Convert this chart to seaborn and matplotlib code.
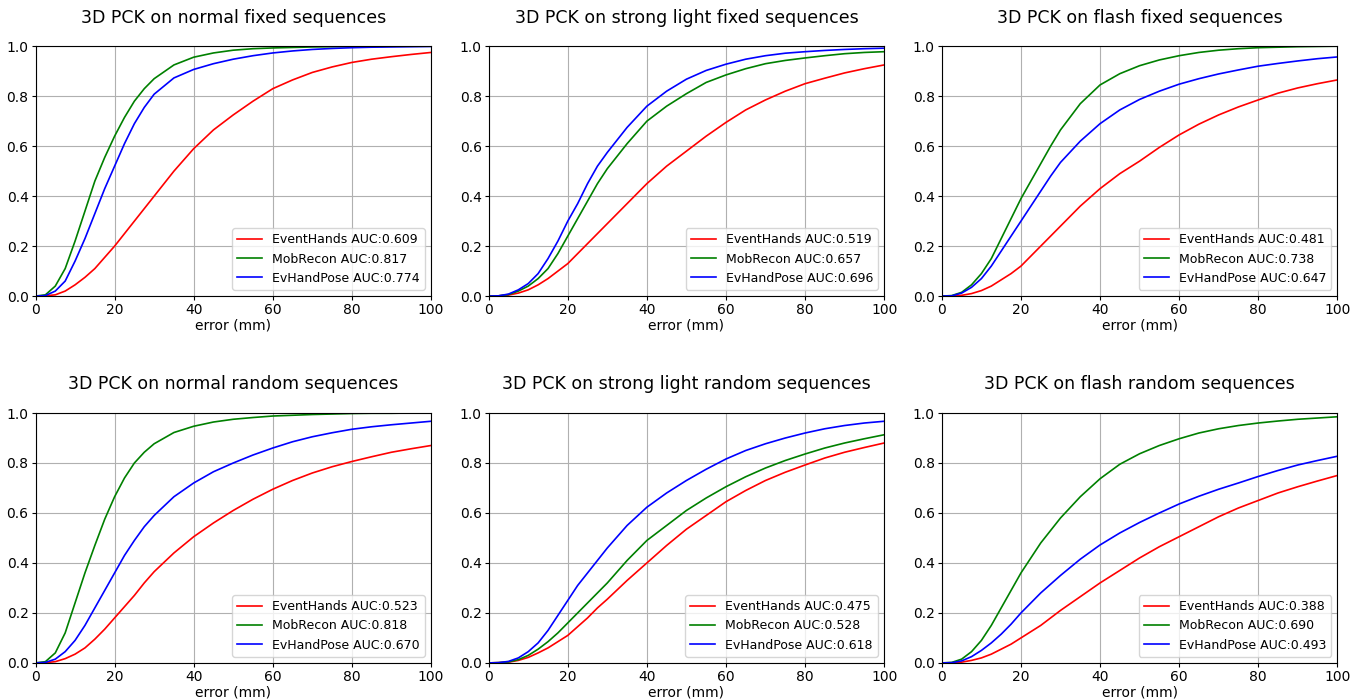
import numpy as np
import pandas as pd
import seaborn as sns
import matplotlib.pyplot as plt

# error thresholds (mm)
err = [0, 2.5, 5, 7.5, 10, 12.5, 15, 17.5, 20, 22.5, 25, 27.5, 30, 35, 40, 45,
       50, 55, 60, 65, 70, 75, 80, 85, 90, 95, 100]

methods = ['EventHands', 'MobRecon', 'EvHandPose']
colors = ['red', 'green', 'blue']

titles = ['3D PCK on normal fixed sequences',
          '3D PCK on strong light fixed sequences',
          '3D PCK on flash fixed sequences',
          '3D PCK on normal random sequences',
          '3D PCK on strong light random sequences',
          '3D PCK on flash random sequences']

auc = [[0.609, 0.817, 0.774],
       [0.519, 0.657, 0.696],
       [0.481, 0.738, 0.647],
       [0.523, 0.818, 0.670],
       [0.475, 0.528, 0.618],
       [0.388, 0.690, 0.493]]

# normal fixed
nf_event = [0, 0.001, 0.005, 0.02, 0.045, 0.075, 0.11, 0.155, 0.2, 0.25, 0.3, 0.35, 0.4, 0.5,
            0.59, 0.665, 0.725, 0.78, 0.83, 0.865, 0.895, 0.917, 0.935, 0.948, 0.958, 0.967, 0.975]
nf_mob = [0, 0.005, 0.04, 0.11, 0.22, 0.34, 0.46, 0.555, 0.64, 0.715, 0.78, 0.83, 0.87, 0.925,
          0.956, 0.973, 0.984, 0.99, 0.993, 0.995, 0.997, 0.998, 0.999, 0.999, 1.0, 1.0, 1.0]
nf_ev = [0, 0.002, 0.02, 0.06, 0.14, 0.23, 0.33, 0.43, 0.52, 0.61, 0.69, 0.755, 0.808, 0.873,
         0.907, 0.93, 0.948, 0.962, 0.973, 0.981, 0.987, 0.991, 0.994, 0.996, 0.997, 0.998, 0.999]

# strong light fixed
sf_event = [0, 0.001, 0.004, 0.012, 0.025, 0.045, 0.07, 0.1, 0.13, 0.17, 0.21, 0.25, 0.29, 0.37,
            0.45, 0.52, 0.58, 0.64, 0.695, 0.745, 0.785, 0.82, 0.85, 0.872, 0.893, 0.91, 0.925]
sf_mob = [0, 0.001, 0.006, 0.02, 0.04, 0.07, 0.11, 0.17, 0.24, 0.31, 0.38, 0.45, 0.51, 0.61,
          0.70, 0.76, 0.81, 0.855, 0.885, 0.91, 0.93, 0.943, 0.953, 0.962, 0.97, 0.975, 0.978]
sf_ev = [0, 0.001, 0.008, 0.025, 0.05, 0.09, 0.15, 0.22, 0.3, 0.37, 0.45, 0.52, 0.575, 0.675,
         0.76, 0.82, 0.868, 0.903, 0.928, 0.948, 0.962, 0.972, 0.978, 0.983, 0.987, 0.99, 0.992]

# flash fixed
ff_event = [0, 0.0, 0.003, 0.01, 0.022, 0.04, 0.065, 0.09, 0.12, 0.16, 0.2, 0.24, 0.28, 0.36,
            0.43, 0.49, 0.54, 0.595, 0.645, 0.688, 0.725, 0.757, 0.785, 0.812, 0.833, 0.85, 0.865]
ff_mob = [0, 0.002, 0.015, 0.045, 0.09, 0.15, 0.23, 0.31, 0.39, 0.46, 0.53, 0.6, 0.665, 0.77,
          0.845, 0.89, 0.922, 0.945, 0.962, 0.975, 0.984, 0.99, 0.994, 0.996, 0.998, 0.999, 1.0]
ff_ev = [0, 0.001, 0.012, 0.035, 0.07, 0.12, 0.18, 0.24, 0.3, 0.36, 0.42, 0.48, 0.535, 0.62,
         0.69, 0.745, 0.787, 0.82, 0.848, 0.87, 0.889, 0.905, 0.92, 0.931, 0.941, 0.95, 0.957]

# normal random
nr_event = [0, 0.001, 0.005, 0.017, 0.035, 0.06, 0.095, 0.135, 0.18, 0.225, 0.27, 0.32, 0.365, 0.44,
            0.505, 0.56, 0.61, 0.655, 0.695, 0.73, 0.76, 0.785, 0.806, 0.825, 0.843, 0.857, 0.87]
nr_mob = [0, 0.005, 0.04, 0.12, 0.24, 0.36, 0.47, 0.575, 0.665, 0.74, 0.8, 0.843, 0.877, 0.922,
          0.947, 0.964, 0.975, 0.982, 0.988, 0.991, 0.994, 0.996, 0.998, 0.999, 0.999, 1.0, 1.0]
nr_ev = [0, 0.002, 0.015, 0.045, 0.09, 0.15, 0.22, 0.29, 0.36, 0.43, 0.49, 0.545, 0.59, 0.665,
         0.72, 0.765, 0.8, 0.832, 0.86, 0.885, 0.905, 0.921, 0.935, 0.945, 0.953, 0.96, 0.967]

# strong light random
sr_event = [0, 0.001, 0.003, 0.01, 0.022, 0.04, 0.06, 0.085, 0.11, 0.145, 0.18, 0.22, 0.255, 0.33,
            0.4, 0.47, 0.535, 0.59, 0.645, 0.69, 0.73, 0.763, 0.792, 0.82, 0.843, 0.862, 0.88]
sr_mob = [0, 0.001, 0.004, 0.013, 0.03, 0.055, 0.085, 0.12, 0.16, 0.2, 0.24, 0.28, 0.32, 0.41,
          0.49, 0.55, 0.61, 0.66, 0.705, 0.745, 0.78, 0.81, 0.836, 0.86, 0.88, 0.897, 0.913]
sr_ev = [0, 0.001, 0.006, 0.02, 0.045, 0.08, 0.13, 0.19, 0.25, 0.31, 0.36, 0.41, 0.46, 0.55,
         0.623, 0.68, 0.73, 0.775, 0.816, 0.85, 0.877, 0.9, 0.92, 0.937, 0.95, 0.96, 0.967]

# flash random
fr_event = [0, 0.0, 0.003, 0.01, 0.02, 0.035, 0.055, 0.075, 0.1, 0.125, 0.15, 0.18, 0.21, 0.265,
            0.32, 0.37, 0.42, 0.465, 0.505, 0.545, 0.585, 0.62, 0.65, 0.68, 0.705, 0.728, 0.75]
fr_mob = [0, 0.002, 0.015, 0.045, 0.09, 0.15, 0.22, 0.29, 0.36, 0.42, 0.48, 0.53, 0.58, 0.665,
          0.737, 0.795, 0.837, 0.87, 0.897, 0.92, 0.937, 0.95, 0.96, 0.968, 0.975, 0.98, 0.985]
fr_ev = [0, 0.001, 0.008, 0.025, 0.05, 0.08, 0.115, 0.155, 0.2, 0.24, 0.28, 0.315, 0.35, 0.415,
         0.472, 0.52, 0.562, 0.6, 0.636, 0.667, 0.695, 0.72, 0.746, 0.77, 0.792, 0.81, 0.827]

curves = [[nf_event, nf_mob, nf_ev],
          [sf_event, sf_mob, sf_ev],
          [ff_event, ff_mob, ff_ev],
          [nr_event, nr_mob, nr_ev],
          [sr_event, sr_mob, sr_ev],
          [fr_event, fr_mob, fr_ev]]

fig, axes = plt.subplots(2, 3, figsize=(13.66, 7), dpi=100)
plt.subplots_adjust(left=0.026, right=0.979, top=0.934, bottom=0.053, wspace=0.146, hspace=0.468)

for i, ax in enumerate(axes.flat):
    rows = []
    for m, ys, a in zip(methods, curves[i], auc[i]):
        lab = '%s AUC:%.3f' % (m, a)
        for x, y in zip(err, ys):
            rows.append({'error': x, 'pck': y, 'label': lab})
    df = pd.DataFrame(rows)
    labels = list(df['label'].unique())
    sns.lineplot(data=df, x='error', y='pck', hue='label', hue_order=labels,
                 palette=colors, linewidth=1.2, ax=ax)
    ax.set_xlim(0, 100)
    ax.set_ylim(0, 1)
    ax.set_xticks([0, 20, 40, 60, 80, 100])
    ax.set_yticks([0, 0.2, 0.4, 0.6, 0.8, 1.0])
    ax.grid(True, color='#b0b0b0', linewidth=0.8)
    ax.set_axisbelow(True)
    ax.tick_params(labelsize=10, length=3, pad=2)
    ax.set_xlabel('error (mm)', fontsize=10, labelpad=1)
    ax.set_ylabel('')
    ax.set_title(titles[i], fontsize=12.5, pad=17)
    ax.legend(loc='lower right', fontsize=9, title=None)

plt.savefig('out.png', dpi=100)
